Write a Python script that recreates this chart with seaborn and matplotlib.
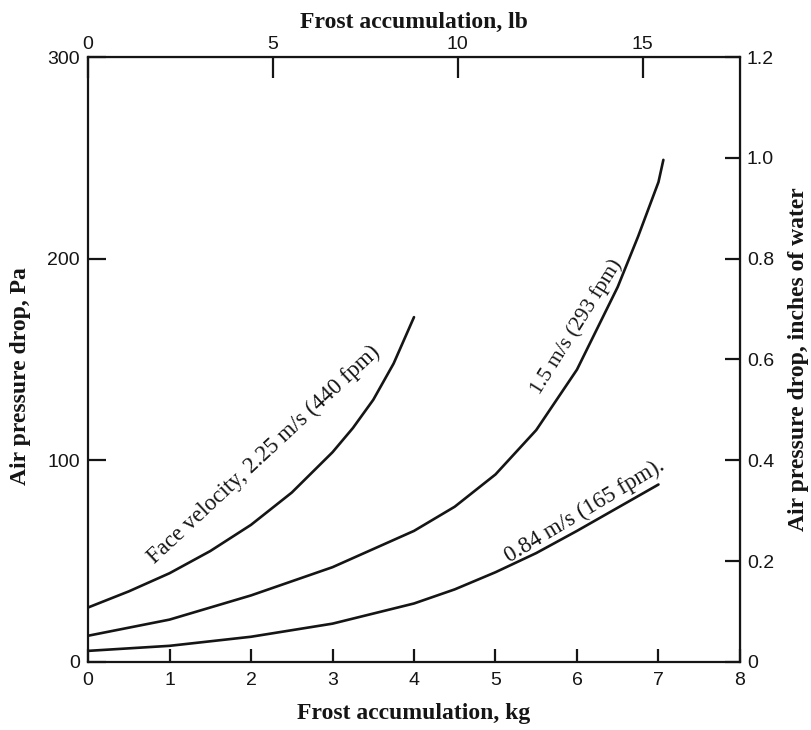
import matplotlib
matplotlib.use("Agg")
import matplotlib.pyplot as plt
import seaborn as sns
import pandas as pd

# values (frost in kg, pressure drop in Pa)
kg_fast = [0, 0.5, 1, 1.5, 2, 2.5, 3, 3.25, 3.5, 3.75, 4.0]
pa_fast = [27, 35, 44, 55, 68, 84, 104, 116, 130, 148, 171]

kg_mid = [0, 1, 2, 3, 4, 4.5, 5, 5.5, 6, 6.5, 6.75, 7, 7.06]
pa_mid = [13, 21, 33, 47, 65, 77, 93, 115, 145, 186, 211, 238, 249]

kg_slow = [0, 1, 2, 3, 4, 4.5, 5, 5.5, 6, 6.5, 7.0]
pa_slow = [5.5, 8, 12.5, 19, 29, 36, 44.5, 54, 65, 76.5, 88]

curve_labels = ["Face velocity, 2.25 m/s (440 fpm)", "1.5 m/s (293 fpm)", "0.84 m/s (165 fpm)."]
label_kg = [2.16, 6.0, 6.1]
label_pa = [103, 166, 75]
label_rot = [43, 58, 31]
label_size = [16.5, 15.5, 16.5]

kg_ticks = [0, 1, 2, 3, 4, 5, 6, 7, 8]
pa_ticks = [0, 100, 200, 300]
lb_ticks = [0, 5, 10, 15]
in_ticks = [0, 0.2, 0.4, 0.6, 0.8, 1.0, 1.2]
in_labels = ["0", "0.2", "0.4", "0.6", "0.8", "1.0", "1.2"]

LB_PER_KG = 2.2046
PA_PER_IN = 250.0

df = pd.concat([
    pd.DataFrame({"kg": kg_fast, "pa": pa_fast, "curve": "2.25"}),
    pd.DataFrame({"kg": kg_mid, "pa": pa_mid, "curve": "1.5"}),
    pd.DataFrame({"kg": kg_slow, "pa": pa_slow, "curve": "0.84"}),
])

sns.set_style("ticks")
plt.rcParams["font.family"] = ["Liberation Sans", "DejaVu Sans"]
serif = ["Liberation Serif", "DejaVu Serif"]
ink = "#151515"

fig = plt.figure(figsize=(8.12, 7.3), dpi=100)
ax = fig.add_axes([0.1084, 0.0932, 0.8029, 0.8287])

for name, sub in df.groupby("curve", sort=False):
    sns.lineplot(data=sub, x="kg", y="pa", ax=ax, color=ink, linewidth=1.9,
                 estimator=None, sort=False, legend=False)

for txt, x, y, r, fs in zip(curve_labels, label_kg, label_pa, label_rot, label_size):
    ax.text(x, y, txt, rotation=r, rotation_mode="anchor", ha="center", va="center",
            family=serif, fontsize=fs, color=ink)

ax.set_xlim(0, 8)
ax.set_ylim(0, 300)
ax.set_xticks(kg_ticks)
ax.set_yticks(pa_ticks)
ax.set_xlabel("Frost accumulation, kg", family=serif, fontweight="bold", fontsize=17, labelpad=10, color=ink)
ax.set_ylabel("Air pressure drop, Pa", family=serif, fontweight="bold", fontsize=17, color=ink)
ax.yaxis.set_label_coords(-0.087, 0.473)
ax.tick_params(axis="x", direction="in", length=9.5, width=1.6, labelsize=14, pad=7, colors=ink)
ax.tick_params(axis="y", direction="in", length=13, width=1.6, labelsize=14, pad=6, colors=ink)
for s in ax.spines.values():
    s.set_visible(True)
    s.set_linewidth(1.6)
    s.set_color(ink)

top = ax.secondary_xaxis("top", functions=(lambda k: k * LB_PER_KG, lambda lb: lb / LB_PER_KG))
top.set_xticks(lb_ticks)
top.set_xlabel("Frost accumulation, lb", family=serif, fontweight="bold", fontsize=17, labelpad=6, color=ink)
top.tick_params(direction="in", length=15, width=1.6, labelsize=14, pad=3, colors=ink)

right = ax.secondary_yaxis("right", functions=(lambda p: p / PA_PER_IN, lambda i: i * PA_PER_IN))
right.set_yticks(in_ticks)
right.set_yticklabels(in_labels)
right.set_ylabel("Air pressure drop, inches of water", family=serif, fontweight="bold", fontsize=17,
                 labelpad=10, rotation=90, color=ink)
right.tick_params(direction="in", length=10.5, width=1.6, labelsize=14, pad=5, colors=ink)

fig.savefig("out.png", dpi=100, facecolor="white")
